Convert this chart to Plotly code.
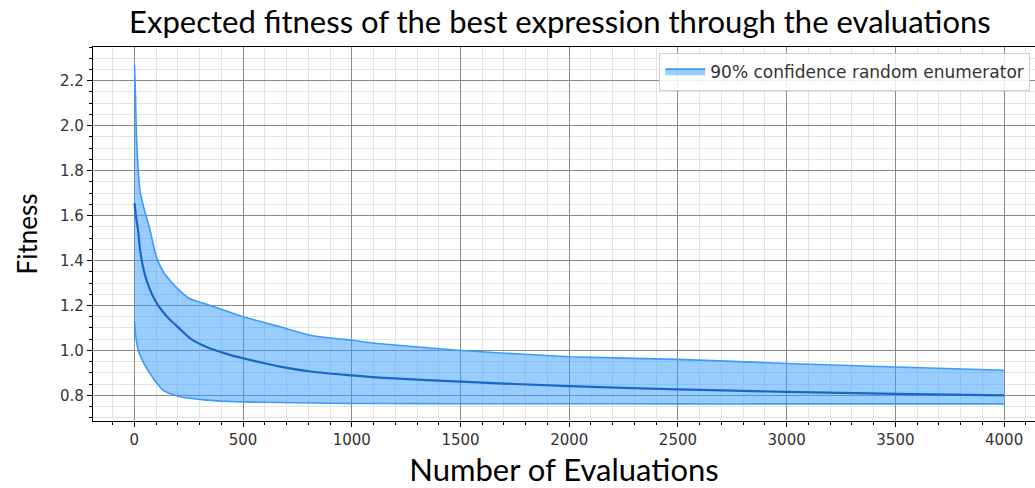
import plotly.graph_objects as go

# Evaluation counts at which the best fitness was sampled
evaluations = [1, 5, 10, 18, 26, 45, 70, 100, 133, 165, 210, 255, 333, 440, 500,
               670, 820, 1000, 1130, 1500, 2000, 2500, 3000, 3500, 4000]

# Upper / lower bound of the 90% confidence band and expected best fitness
upper_bound = [2.27, 2.15, 1.95, 1.80, 1.71, 1.63, 1.545, 1.42, 1.35, 1.31, 1.265, 1.23,
               1.205, 1.17, 1.15, 1.105, 1.065, 1.045, 1.03, 1.0, 0.972, 0.96, 0.942,
               0.926, 0.912]
expected = [1.655, 1.62, 1.58, 1.53, 1.45, 1.35, 1.275, 1.215, 1.17, 1.135, 1.095, 1.055,
            1.015, 0.98, 0.965, 0.928, 0.905, 0.889, 0.879, 0.861, 0.841, 0.827, 0.816,
            0.807, 0.80]
lower_bound = [1.13, 1.08, 1.04, 1.0, 0.98, 0.94, 0.90, 0.858, 0.822, 0.807, 0.794, 0.787,
               0.779, 0.773, 0.771, 0.768, 0.766, 0.764, 0.764, 0.763, 0.763, 0.762, 0.762,
               0.762, 0.762]

x_ticks = [0, 500, 1000, 1500, 2000, 2500, 3000, 3500, 4000]
y_ticks = [0.8, 1.0, 1.2, 1.4, 1.6, 1.8, 2.0, 2.2]

band_edge = "#3a9bff"
band_fill = "rgba(51,153,255,0.5)"
mean_color = "#1a66c4"

fig = go.Figure()
fig.add_trace(go.Scatter(
    x=evaluations, y=lower_bound, mode="lines",
    line=dict(color=band_edge, width=1.6, shape="spline", smoothing=0.5),
    showlegend=False, hoverinfo="skip"))
fig.add_trace(go.Scatter(
    x=evaluations, y=upper_bound, mode="lines", fill="tonexty",
    fillcolor=band_fill,
    line=dict(color=band_edge, width=1.6, shape="spline", smoothing=0.5),
    name="90% confidence random enumerator"))
fig.add_trace(go.Scatter(
    x=evaluations, y=expected, mode="lines",
    line=dict(color=mean_color, width=2.2, shape="spline", smoothing=0.6),
    showlegend=False))

tick_font = dict(family="DejaVu Sans", size=15, color="#333333")
major_grid = "#8a8a8a"
minor_grid = "#e3e3e3"

fig.update_layout(
    width=1035, height=488,
    margin=dict(l=93, r=0, t=47, b=67),
    paper_bgcolor="white", plot_bgcolor="white",
    title=dict(text="Expected fitness of the best expression through the evaluations",
               x=0.541, xanchor="center", y=0.955, yanchor="middle",
               font=dict(family="Lato", size=31, color="black")),
    legend=dict(x=0.995, y=0.985, xanchor="right", yanchor="top",
                bgcolor="rgba(255,255,255,0.85)", bordercolor="#d0d0d0", borderwidth=1,
                itemwidth=40,
                font=dict(family="DejaVu Sans", size=17, color="#333333")),
    showlegend=True,
)

fig.update_xaxes(
    range=[-190, 4142], tickvals=x_ticks, ticktext=[str(v) for v in x_ticks],
    ticks="outside", ticklen=5, tickwidth=1, tickcolor="black", tickfont=tick_font,
    showline=True, linecolor="black", linewidth=1.2, mirror=True,
    showgrid=True, gridcolor=major_grid, gridwidth=1.3, zeroline=False,
    minor=dict(dtick=100, tick0=0, ticks="outside", ticklen=3, tickcolor="black",
               showgrid=True, gridcolor=minor_grid, gridwidth=1),
    title=dict(text="Number of Evaluations", standoff=15,
               font=dict(family="Lato", size=31, color="black")),
)
fig.update_yaxes(
    range=[0.686, 2.35], tickvals=y_ticks, ticktext=[f"{v:.1f}" for v in y_ticks],
    ticks="outside", ticklen=5, tickwidth=1, tickcolor="black", tickfont=tick_font,
    showline=True, linecolor="black", linewidth=1.2,
    showgrid=True, gridcolor=major_grid, gridwidth=1.3, zeroline=False,
    minor=dict(dtick=0.05, tick0=0, ticks="outside", ticklen=3, tickcolor="black",
               showgrid=True, gridcolor=minor_grid, gridwidth=1),
    title=dict(text="Fitness", standoff=14,
               font=dict(family="Lato", size=26, color="black")),
)

fig.write_html("out.html")
